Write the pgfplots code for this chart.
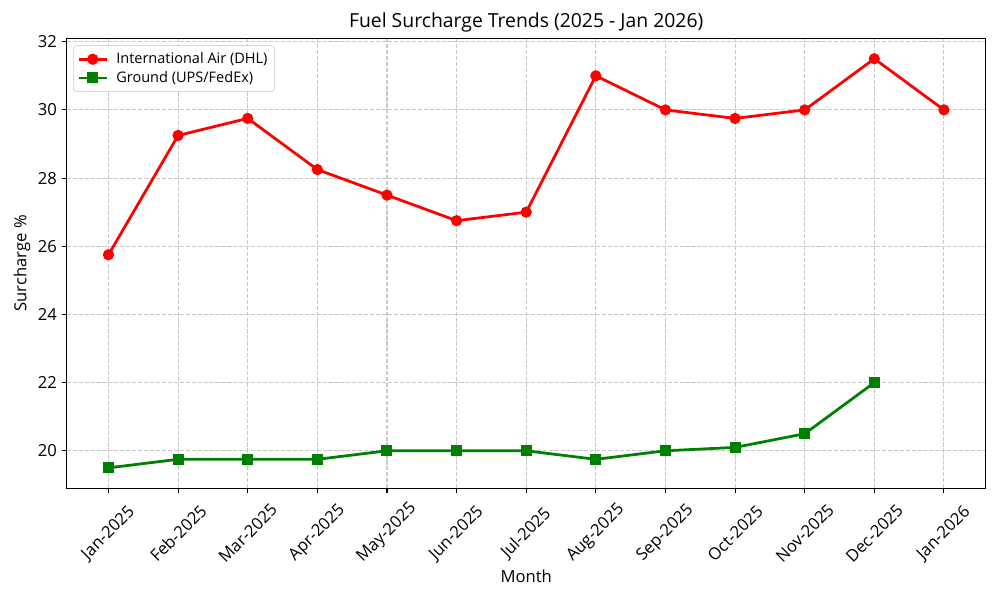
\documentclass[border=0pt]{standalone}
\usepackage{fontspec}
\setmainfont{Open Sans}
\usepackage{pgfplots}
\pgfplotsset{compat=1.18}
\definecolor{mplred}{RGB}{255,0,0}
\definecolor{mplgreen}{RGB}{0,128,0}
\definecolor{gridc}{RGB}{200,200,200}
\begin{document}
\begin{tikzpicture}
\begin{axis}[
  name=main,
  scale only axis,
  width=9.19in, height=4.5in,
  xmin=-0.6, xmax=12.6,
  ymin=18.9, ymax=32.1,
  xtick={0,...,12},
  xticklabels={Jan-2025,Feb-2025,Mar-2025,Apr-2025,May-2025,Jun-2025,Jul-2025,Aug-2025,Sep-2025,Oct-2025,Nov-2025,Dec-2025,Jan-2026},
  ytick={20,22,24,26,28,30,32},
  xtick pos=bottom, ytick pos=left,
  tick align=outside,
  major tick length=3.5pt,
  tick style={black, line width=0.8pt},
  axis line style={line width=0.8pt},
  /pgf/number format/assume math mode=true,
  tick label style={font=\fontsize{12}{14}\selectfont},
  xticklabel style={yshift=-29pt, rotate=45, anchor=center},
  grid=major,
  major grid style={gridc, line width=0.8pt, dash pattern=on 3pt off 1.3pt},
  xlabel={Month},
  ylabel={Surcharge \%},
  label style={font=\fontsize{12}{14}\selectfont},
  xlabel style={at={(axis description cs:0.5,-0.1956)}, anchor=center},
  ylabel style={at={(axis description cs:-0.0486,0.5)}, anchor=center},
  title={Fuel Surcharge Trends (2025 - Jan 2026)},
  title style={at={(axis description cs:0.5,1.0162)}, anchor=center, font=\fontsize{14}{16}\selectfont},
  legend style={at={(axis description cs:0.007,0.984)}, anchor=north west, draw=gridc, rounded corners=2pt, font=\fontsize{10.5}{12}\selectfont, row sep=0pt, inner sep=3pt,
    /tikz/every odd column/.append style={column sep=4pt}},
  legend cell align=left,
  legend image code/.code={\draw[mark repeat=2,mark phase=2] plot coordinates {(0pt,0pt)(10pt,0pt)(20pt,0pt)};},
]
\addplot[mplred, line width=2pt, mark=*, mark size=3pt, mark options={solid}] coordinates {
(0,25.75)(1,29.25)(2,29.75)(3,28.25)(4,27.5)(5,26.75)(6,27.0)(7,31.0)(8,30.0)(9,29.75)(10,30.0)(11,31.5)(12,30.0)};
\addlegendentry{International Air (DHL)}
\addplot[mplgreen, line width=2pt, mark=square*, mark size=3pt, mark options={solid}] coordinates {
(0,19.5)(1,19.75)(2,19.75)(3,19.75)(4,20.0)(5,20.0)(6,20.0)(7,19.75)(8,20.0)(9,20.1)(10,20.5)(11,22.0)};
\addlegendentry{Ground (UPS/FedEx)}
\end{axis}
\pgfresetboundingbox
\path[use as bounding box] ([xshift=-0.667in,yshift=-1.117in]main.south west) rectangle ++(10in,6in);
\end{tikzpicture}
\end{document}
